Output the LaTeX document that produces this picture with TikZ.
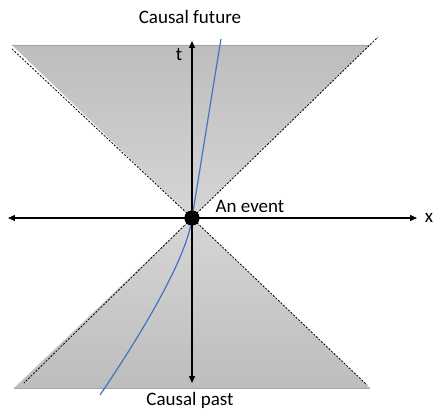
\documentclass[tikz,border=0pt]{standalone}
\usepackage{fontspec}
\setmainfont{Carlito}
\usetikzlibrary{positioning, arrows.meta}
\definecolor{conedark}{HTML}{BDBDBD}
\definecolor{conelight}{HTML}{D6D6D6}
\definecolor{coneedge}{HTML}{A6A6A6}
\definecolor{wline}{HTML}{4472C4}

\begin{document}
\begin{tikzpicture}[
  x=1pt, y=1pt,
  font=\fontsize{19}{22}\selectfont,
  axis/.style={{Triangle[length=7pt,width=6pt]}-{Triangle[length=7pt,width=6pt]}, line width=1.3pt, black},
  light/.style={black, dash pattern=on 2pt off 1.5pt, line width=0.8pt},
  lbl/.style={inner sep=0pt}
]
  \useasboundingbox (-192,-194) rectangle (241,218);

  % the two cones
  \shade[top color=conedark, bottom color=conelight] (-180,173) -- (178,173) -- (0,0) -- cycle;
  \shade[top color=conelight, bottom color=conedark] (0,0) -- (178,-170) -- (-178,-170) -- cycle;
  \draw[coneedge, line width=0.6pt] (-180,173) -- (178,173);
  \draw[coneedge, line width=0.6pt] (-178,-170) -- (178,-170);

  \node[circle, fill=black, minimum size=15pt, inner sep=0pt] (ev) at (0,0) {};

  \coordinate (fl) at (-181,170);
  \coordinate (fr) at (186,181);
  \coordinate (pl) at (-168,-165);
  \coordinate (pr) at (175,-167);
  \draw[light] (ev.center) -- (fl);
  \draw[light] (ev.center) -- (fr);
  \draw[light] (ev.center) -- (pl);
  \draw[light] (ev.center) -- (pr);

  % axes
  \coordinate (tTop) at (0,177);
  \coordinate (tBot) at (0,-165);
  \coordinate (xLeft) at (-184,0);
  \coordinate (xRight) at (225,0);
  \draw[axis] (tBot) -- (tTop);
  \draw[axis] (xLeft) -- (xRight);

  % world line
  \coordinate (wTop) at (29,179);
  \coordinate (wBot) at (-92,-177);
  \draw[wline, line width=1.2pt] (wTop) .. controls (20,125) and (5,30) .. (ev.center)
    .. controls (-5,-40) and (-50,-115) .. (wBot);

  \node[circle, fill=black, minimum size=15pt, inner sep=0pt] at (ev) {};

  \node[lbl] (tl) at (-13,163) {t};
  \node[lbl] (xl) at (237,0) {x};
  \node[lbl] (evl) at (58,12) {An event};
  \node[lbl] (fut) at (-2,201) {Causal future};
  \node[lbl] (past) at (-2,-182) {Causal past};
\end{tikzpicture}
\end{document}
